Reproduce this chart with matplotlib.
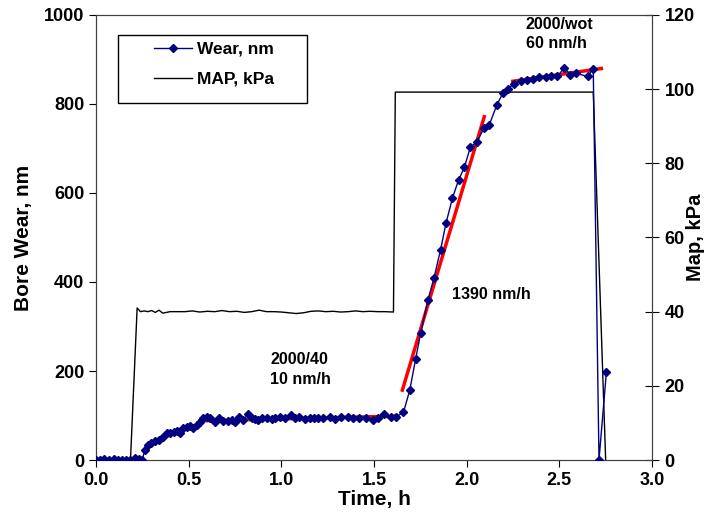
import numpy as np
import matplotlib
matplotlib.use('Agg')
import matplotlib.pyplot as plt
from matplotlib.patches import Rectangle

plt.rcParams['font.family'] = ['Liberation Sans', 'DejaVu Sans']
plt.rcParams['font.weight'] = 'bold'

# bore wear, nm vs time, h
wear_t = [0.0, 0.02, 0.043, 0.07, 0.097, 0.12, 0.141, 0.163, 0.186, 0.209, 0.231, 0.249,
          0.263, 0.281, 0.299, 0.32, 0.338, 0.36, 0.383, 0.4, 0.419, 0.437, 0.455, 0.472,
          0.49, 0.508, 0.526, 0.544, 0.562, 0.58, 0.597, 0.616, 0.642, 0.664, 0.687, 0.71,
          0.736, 0.75, 0.772, 0.795, 0.822, 0.84, 0.857, 0.875, 0.893, 0.92, 0.947, 0.965,
          0.991, 1.018, 1.05, 1.075, 1.093, 1.125, 1.152, 1.176, 1.2, 1.224, 1.26, 1.287,
          1.323, 1.358, 1.385, 1.421, 1.457, 1.492, 1.519, 1.555, 1.591, 1.618, 1.659,
          1.693, 1.725, 1.752, 1.791, 1.823, 1.859, 1.889, 1.923, 1.956, 1.988, 2.02,
          2.056, 2.092, 2.122, 2.163, 2.195, 2.222, 2.256, 2.292, 2.328, 2.356, 2.39,
          2.426, 2.455, 2.49, 2.526, 2.56, 2.589, 2.652, 2.683, 2.714, 2.754]
wear = [0, 0, 2, 0, 3, 1, 0, 0, 0, 4, 2, 0,
        22, 34, 39, 43, 46, 52, 60, 60, 64, 66, 61, 71,
        75, 76, 71, 79, 86, 94, 96, 94, 85, 95, 88, 88,
        90, 86, 97, 90, 103, 95, 92, 90, 94, 95, 92, 95,
        97, 94, 101, 95, 97, 92, 95, 94, 95, 94, 97, 92,
        97, 97, 94, 94, 95, 91, 95, 103, 97, 97, 107,
        157, 228, 285, 360, 408, 472, 533, 588, 629, 658, 703,
        715, 745, 753, 798, 824, 834, 846, 852, 854, 856, 860,
        860, 863, 862, 881, 866, 869, 862, 879, 0, 198]

# manifold absolute pressure, kPa
map_t = [0, 0.05, 0.10, 0.15, 0.186, 0.222, 0.24, 0.26, 0.28, 0.30, 0.32, 0.34, 0.36,
         0.40, 0.44, 0.48, 0.52, 0.56, 0.60, 0.64, 0.68, 0.72, 0.76, 0.80, 0.84, 0.88,
         0.92, 0.96, 1.00, 1.04, 1.08, 1.12, 1.16, 1.20, 1.24, 1.28, 1.32, 1.36, 1.40,
         1.44, 1.48, 1.52, 1.56, 1.605, 1.615, 2.683, 2.75]
map_kpa = [0, 0, 0, 0, 0, 41.0, 40.0, 40.2, 40.0, 40.3, 39.8, 40.4, 39.6,
           40.0, 40.0, 40.0, 40.2, 39.9, 40.1, 40.0, 40.3, 40.0, 40.1, 39.8, 40.0, 40.4,
           40.0, 40.0, 39.9, 39.7, 39.5, 39.7, 40.1, 40.2, 40.0, 40.1, 39.9, 40.0, 40.2,
           40.0, 40.1, 40.0, 40.0, 39.9, 99.2, 99.2, 0]

# linear fits: start time, end time, start wear, rate nm/h
fit_t0 = [0.56, 1.653, 2.249]
fit_t1 = [1.62, 2.095, 2.727]
fit_w0 = [88, 157, 851]
fit_rate = [10, 1390, 60]

fig = plt.figure(figsize=(7.08, 5.16), dpi=100)
ax = fig.add_axes([0.1356, 0.1085, 0.7853, 0.8625])
ax2 = ax.twinx()

ax2.plot(map_t, map_kpa, color='black', lw=1, label='MAP, kPa', zorder=1)
ax2.set_ylim(0, 120)
ax2.set_yticks(np.arange(0, 121, 20))

for t0, t1, w0, r in zip(fit_t0, fit_t1, fit_w0, fit_rate):
    ax.plot([t0, t1], [w0, w0 + r * (t1 - t0)], color='red', lw=2.5, zorder=2)
ax.plot(wear_t, wear, color='#000080', lw=1, marker='D', ms=4.5, label='Wear, nm', zorder=3)

ax.set_zorder(ax2.get_zorder() + 1)
ax.patch.set_visible(False)

ax.set_xlim(0, 3.0)
ax.set_ylim(0, 1000)
ax.set_xticks(np.arange(0, 3.01, 0.5))
ax.set_xticklabels(['%.1f' % v for v in np.arange(0, 3.01, 0.5)])
ax.set_yticks(np.arange(0, 1001, 200))

ax.tick_params(axis='both', direction='out', labelsize=13, length=5)
ax2.tick_params(axis='y', direction='inout', labelsize=13, length=10, pad=4)
for a in (ax, ax2):
    for lbl in a.get_xticklabels() + a.get_yticklabels():
        lbl.set_fontweight('bold')
    for s in a.spines.values():
        s.set_color('#404040')

ax.set_xlabel('Time, h', fontsize=15, fontweight='bold', labelpad=1)
ax.set_ylabel('Bore Wear, nm', fontsize=15, fontweight='bold', labelpad=8)
ax2.set_ylabel('Map, kPa', fontsize=14.5, fontweight='bold', rotation=90)
ax2.yaxis.set_label_coords(1.062, 0.5)

ax.text(0.94, 165, '2000/40\n10 nm/h', fontsize=11.5, fontweight='bold', va='bottom', linespacing=1.35)
ax.text(1.92, 372, '1390 nm/h', fontsize=11.5, fontweight='bold', va='center')
ax.text(2.32, 918, '2000/wot\n60 nm/h', fontsize=11.5, fontweight='bold', va='bottom', linespacing=1.35)

# legend frame drawn separately so the inner padding matches the original
ax.add_patch(Rectangle((0.039, 0.802), 0.34, 0.153, transform=ax.transAxes,
                       facecolor='white', edgecolor='black', lw=1, zorder=4))
h1, l1 = ax.get_legend_handles_labels()
h2, l2 = ax2.get_legend_handles_labels()
leg = ax.legend(h1 + h2, l1 + l2, loc='upper left', bbox_to_anchor=(0.104, 0.94),
                frameon=False, fontsize=12.5, handlelength=2.2, handletextpad=0.3,
                borderpad=0, labelspacing=0.85, borderaxespad=0)
leg.set_zorder(5)
for txt in leg.get_texts():
    txt.set_fontweight('bold')

plt.savefig('out.png', dpi=100)
